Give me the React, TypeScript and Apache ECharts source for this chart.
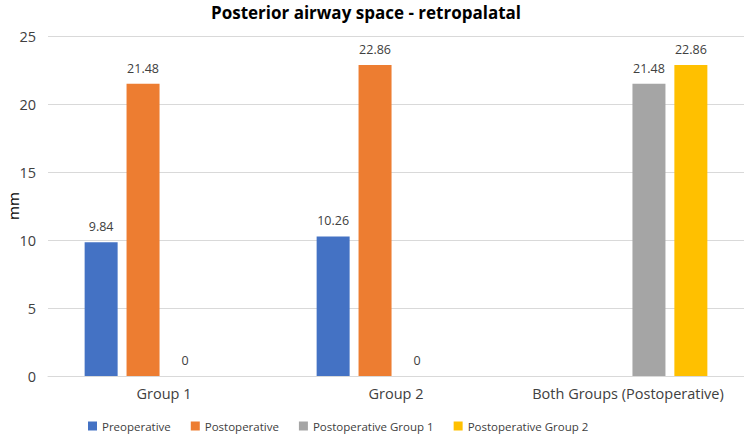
import React, { useEffect, useRef } from "react";
import * as echarts from "echarts";

const categories = ["Group 1", "Group 2", "Both Groups (Postoperative)"];
const seriesNames = ["Preoperative", "Postoperative", "Postoperative Group 1", "Postoperative Group 2"];
const preoperative = [9.84, 10.26, null];
const postoperative = [21.48, 22.86, null];
const postGroup1 = [0, 0, 21.48];
const postGroup2 = [null, null, 22.86];
const colors = ["#4472C4", "#ED7D31", "#A5A5A5", "#FFC000"];
const yTicks = [0, 5, 10, 15, 20, 25];

const FONT = "'Open Sans', 'Noto Sans', sans-serif";

export default function App() {
  const ref = useRef<HTMLDivElement>(null);
  useEffect(() => {
    document.body.style.margin = "0";
    if (!ref.current) return;
    const chart = echarts.init(ref.current, undefined, { renderer: "svg" });
    const data = [preoperative, postoperative, postGroup1, postGroup2];
    chart.setOption({
      animation: false,
      textStyle: { fontFamily: FONT },
      title: {
        text: "Posterior airway space - retropalatal",
        left: 361,
        textAlign: "center",
        top: -1,
        textStyle: { fontFamily: FONT, fontWeight: "bold", fontSize: 17, color: "#000" },
      },
      legend: {
        bottom: 0,
        left: 83,
        itemWidth: 9,
        itemHeight: 9,
        itemGap: 20,
        icon: "rect",
        data: seriesNames,
        textStyle: { fontFamily: FONT, fontSize: 11.5, color: "#404040" },
      },
      grid: { left: 48, right: 0, top: 36, bottom: 61, outerBoundsMode: "none", containLabel: false },
      xAxis: {
        type: "category",
        data: categories,
        axisTick: { show: false },
        axisLine: { lineStyle: { color: "#D9D9D9", width: 1 } },
        axisLabel: { fontFamily: FONT, fontSize: 14.5, color: "#404040", margin: 10, interval: 0, hideOverlap: false },
      },
      yAxis: {
        type: "value",
        min: yTicks[0],
        max: yTicks[yTicks.length - 1],
        interval: 5,
        name: "mm",
        nameLocation: "middle",
        nameGap: 28,
        nameMoveOverlap: false,
        nameTextStyle: { fontFamily: FONT, fontSize: 15, color: "#000" },
        axisLabel: { fontFamily: FONT, fontSize: 14.5, color: "#404040", margin: 12 },
        splitLine: { lineStyle: { color: "#D9D9D9", width: 1 } },
        axisLine: { show: false },
        axisTick: { show: false },
      },
      series: seriesNames.map((name, i) => ({
        name,
        type: "bar",
        data: data[i],
        barWidth: 33,
        barGap: "27%",
        itemStyle: { color: colors[i] },
        label: {
          show: true,
          position: "top",
          distance: 9,
          fontFamily: FONT,
          fontSize: 12.5,
          color: "#404040",
        },
      })),
    });
    return () => chart.dispose();
  }, []);
  return <div ref={ref} style={{ width: 744, height: 437 }} />;
}
